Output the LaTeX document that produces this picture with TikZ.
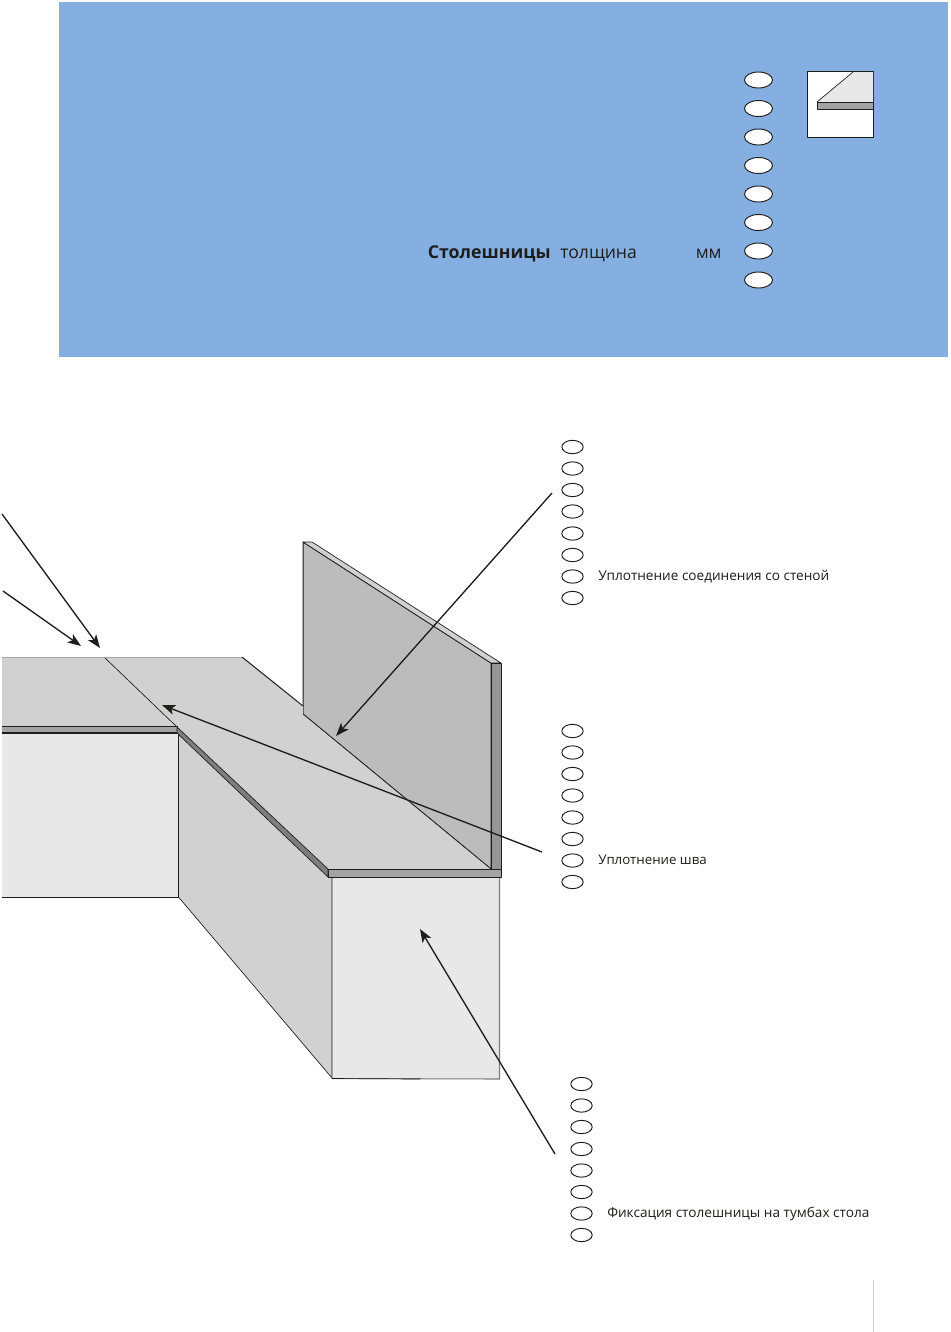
\documentclass[tikz,border=0pt]{standalone}
\usepackage{fontspec}
\setmainfont{Open Sans}
\usetikzlibrary{arrows.meta,shapes.geometric}
\definecolor{panelblue}{HTML}{85AEE1}
\definecolor{topgray}{HTML}{D1D1D1}
\definecolor{lightgray}{HTML}{E8E8E8}
\definecolor{wallgray}{HTML}{BCBCBC}
\definecolor{edgegray}{HTML}{A3A3A3}
\definecolor{darkedge}{HTML}{7E7E7E}
\definecolor{endgray}{HTML}{969696}
\definecolor{inkline}{HTML}{1D1D1B}
\tikzset{
  outline/.style={draw=inkline,line width=0.75pt,line join=round},
  thinline/.style={draw=inkline,line width=0.5pt,line join=round},
  oval/.style={ellipse,draw=inkline,fill=white,line width=0.7pt,inner sep=0pt},
  bigoval/.style={oval,minimum width=21pt,minimum height=12pt},
  smalloval/.style={oval,minimum width=16pt,minimum height=10pt},
  pointer/.style={draw=inkline,line width=1pt,-{Stealth[length=10pt,width=7.5pt,inset=2.5pt]}},
  label/.style={inner sep=0pt,anchor=base west,font=\fontsize{10.2pt}{12pt}\selectfont,text=inkline},
  headlabel/.style={inner sep=0pt,anchor=base west,font=\fontsize{13.2pt}{15pt}\selectfont,text=inkline}
}
\begin{document}
\begin{tikzpicture}[x=0.75pt,y=-0.75pt]
  \useasboundingbox (0,0) rectangle (950,1332);
  \fill[white] (0,0) rectangle (950,1332);

  % blue panel
  \fill[panelblue] (59,2) rectangle (948,357);
  \foreach \y [count=\i] in {80,108.5,137,165.5,194,222.5,251,280}
    \node[bigoval] (top\i) at (758.5,\y) {};
  \node[headlabel,font=\fontsize{13.3pt}{15pt}\selectfont\bfseries] (title) at (427.5,258) {Столешницы};
  \node[headlabel] (thick) at (560,258) {толщина};
  \node[headlabel] (unit) at (695.5,258) {мм};

  % small sample
  \draw[outline,fill=white] (807.5,71.5) rectangle (873.5,137.5);
  \fill[lightgray] (817,102) -- (853,72) -- (873,72) -- (873,102) -- cycle;
  \draw[thinline] (817,102) -- (853,72);
  \draw[thinline,fill=edgegray] (817,102) rectangle (873.5,109);

  % cabinets
  \filldraw[thinline,fill=lightgray] (2,733) -- (178.5,733) -- (178.5,897) -- (2,897);
  \filldraw[thinline,fill=topgray] (178.5,733) -- (332,877) -- (332,1078) -- (178.5,897) -- cycle;
  \filldraw[draw=darkedge,line width=0.8pt,fill=lightgray] (332,877) -- (499.5,877) -- (499.5,1079) -- (332,1078.5) -- cycle;
  \draw[thinline] (332,1078.5) -- (420,1079);

  % wall panel
  \filldraw[outline,fill=wallgray] (303,714) -- (303,542) -- (491,663) -- (491,869) -- cycle;
  \filldraw[thinline,fill=topgray] (303,542) -- (312,542) -- (501,663) -- (491,663) -- cycle;
  \filldraw[outline,fill=endgray] (491,663) -- (501,663) -- (501,869) -- (491,869) -- cycle;

  % worktop
  \fill[topgray] (2,657) -- (242,657) -- (303,706) -- (303,714) -- (491,869) -- (328,869) -- (177,727) -- (2,727) -- cycle;
  \draw[outline] (242,657) -- (303,706);
  \draw[thinline] (303,714) -- (491,869);
  \draw[thinline] (104,657) -- (177,727);
  \draw[draw=gray!70,line width=0.4pt] (2,657) -- (242,657);
  \filldraw[thinline,fill=edgegray] (2,726) -- (177,726) -- (177,732.5) -- (2,732.5);
  \filldraw[thinline,fill=darkedge] (177,727) -- (328,869) -- (328,877) -- (177,733) -- cycle;
  \filldraw[outline,fill=edgegray] (328,869) -- (501.5,869) -- (501.5,877) -- (328,877) -- cycle;

  % ovals and captions
  \foreach \y [count=\i] in {447,468.5,490,511.5,533.5,555,576.5,598}
    \node[smalloval] (walla\i) at (572.5,\y) {};
  \foreach \y [count=\i] in {731,752.5,774,795.5,817.5,839,860.5,882}
    \node[smalloval] (seam\i) at (572.5,\y) {};
  \foreach \y [count=\i] in {1084,1105.5,1127,1149,1170.5,1192,1213.5,1235}
    \node[smalloval] (fix\i) at (581.5,\y) {};
  \node[label] (wallcap) at (598,580) {Уплотнение соединения со стеной};
  \node[label,font=\fontsize{9.95pt}{12pt}\selectfont] (seamcap) at (598,864) {Уплотнение шва};
  \node[label] (fixcap) at (607,1217) {Фиксация столешницы на тумбах стола};

  % pointers
  \coordinate (farA) at (2,514);
  \coordinate (farB) at (3,591);
  \coordinate (tipA) at (100,648);
  \coordinate (tipB) at (81,646);
  \coordinate (wallfrom) at (552,493);
  \coordinate (walltip) at (336,736);
  \coordinate (seamfrom) at (542,852);
  \coordinate (seamtip) at (162,705);
  \coordinate (fixfrom) at (555,1154);
  \coordinate (fixtip) at (420,929);
  \draw[pointer] (farA) -- (tipA);
  \draw[pointer] (farB) -- (tipB);
  \draw[pointer] (wallfrom) -- (walltip);
  \draw[pointer] (seamfrom) -- (seamtip);
  \draw[pointer] (fixfrom) -- (fixtip);

  % page rule
  \draw[draw=gray!40,line width=0.5pt] (873,1280) -- (873,1332);
\end{tikzpicture}
\end{document}
